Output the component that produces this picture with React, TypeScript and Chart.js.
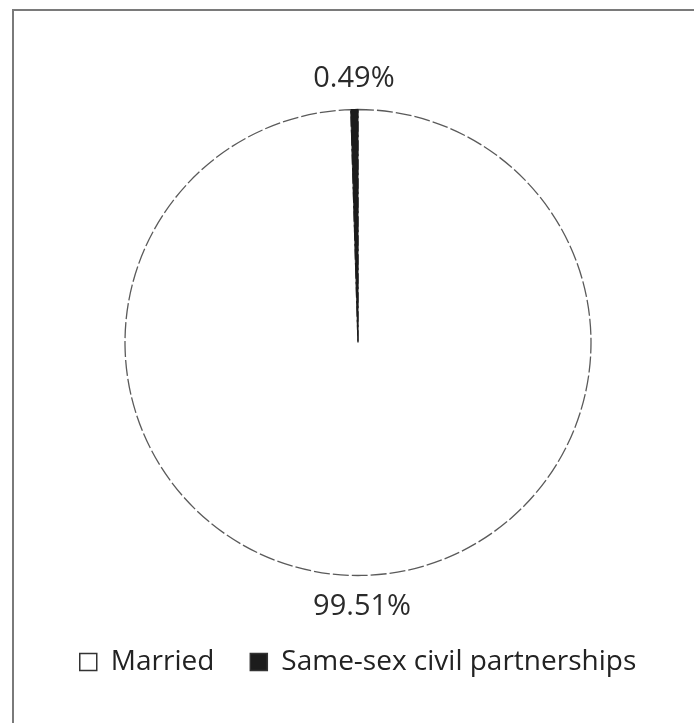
import React, { useEffect, useRef } from "react";
import { Chart, registerables } from "chart.js";

Chart.register(...registerables);

const categories = ["Married", "Same-sex civil partnerships"];
const shares = [99.51, 0.49];
const shareLabels = ["99.51%", "0.49%"];
const fillColors = ["#ffffff", "#1c1c1c"];

const FONT = "'Open Sans', sans-serif";

const labelPlugin = {
  id: "outsideLabels",
  afterDatasetsDraw(chart: any) {
    const ctx = chart.ctx;
    const meta = chart.getDatasetMeta(0);
    ctx.save();
    ctx.font = `29px ${FONT}`;
    ctx.fillStyle = "#2a2a2a";
    ctx.textAlign = "center";
    ctx.textBaseline = "middle";
    meta.data.forEach((arc: any, i: number) => {
      const p = arc.getProps(["x", "y", "startAngle", "endAngle", "outerRadius"], true);
      const mid = (p.startAngle + p.endAngle) / 2;
      const r = p.outerRadius + 31;
      ctx.fillText(shareLabels[i], p.x + Math.cos(mid) * r, p.y + Math.sin(mid) * r);
    });
    ctx.restore();
  },
};

export default function App() {
  const ref = useRef<HTMLCanvasElement>(null);
  useEffect(() => {
    if (!ref.current) return;
    const chart = new Chart(ref.current, {
      type: "pie",
      data: {
        labels: categories,
        datasets: [
          {
            data: shares,
            backgroundColor: fillColors,
            borderColor: ["#5a5a5a", "#1c1c1c"],
            borderWidth: 1.3,
            borderDash: [16, 3],
            radius: 233,
          } as any,
        ],
      },
      options: {
        animation: false,
        responsive: false,
        layout: { padding: { top: 73, left: 22, right: 0, bottom: 37 } },
        plugins: {
          tooltip: { enabled: false },
          legend: {
            position: "bottom",
            labels: {
              boxWidth: 17,
              boxHeight: 17,
              padding: 36,
              color: "#222222",
              font: { family: FONT, size: 28 },
              generateLabels: (chart: any) =>
                categories.map((c, i) => ({
                  text: c,
                  fillStyle: fillColors[i],
                  strokeStyle: "#333333",
                  lineWidth: 1.5,
                  lineDash: [],
                  fontColor: "#222222",
                  hidden: false,
                  index: i,
                })),
            },
          },
        },
      },
      plugins: [labelPlugin],
    });
    return () => chart.destroy();
  }, []);
  return (
    <div style={{ position: "fixed", left: 0, top: 0, width: 694, height: 723, overflow: "hidden", background: "#fff" }}>
      <div
        style={{
          position: "absolute",
          left: 12,
          top: 9,
          width: 720,
          height: 760,
          border: "2px solid #7a7a7a",
        }}
      />
      <canvas ref={ref} width={694} height={723} style={{ position: "absolute", left: 0, top: 0 }} />
    </div>
  );
}
